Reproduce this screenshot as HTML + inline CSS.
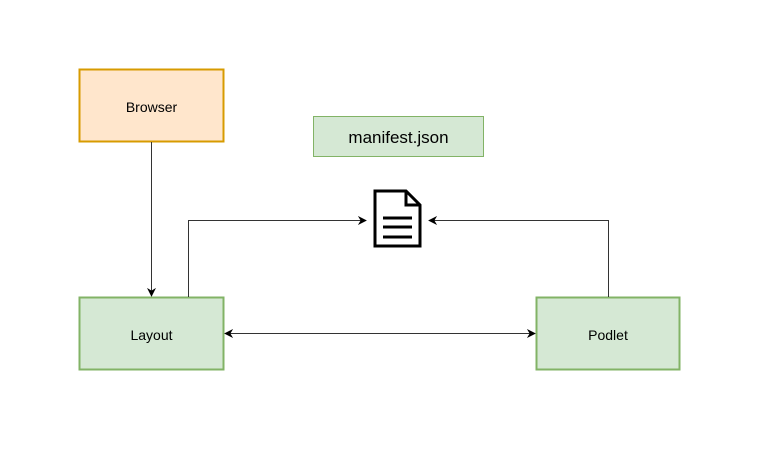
<!DOCTYPE html>
<html><head><style>
body{margin:0;background:#fff;width:765px;height:444px;overflow:hidden;font-family:"Liberation Sans",Helvetica,sans-serif}
</style></head><body>
<svg width="765" height="444" xmlns="http://www.w3.org/2000/svg">
<defs>
<marker id="a" viewBox="0 0 10 10" refX="9" refY="5" markerWidth="9" markerHeight="9" orient="auto-start-reverse" markerUnits="userSpaceOnUse">
<path d="M0,0 L10,5 L0,10 L3,5 Z" fill="#000"/></marker>
</defs>
<rect x="79.5" y="69.5" width="144" height="72" fill="#ffe6cc" stroke="#d79b00" stroke-width="2"/>
<text x="151.5" y="112" font-size="14" text-anchor="middle">Browser</text>
<rect x="79.5" y="297.5" width="144" height="72" fill="#d5e8d4" stroke="#82b366" stroke-width="2"/>
<text x="151.5" y="340" font-size="14" text-anchor="middle">Layout</text>
<rect x="536.5" y="297.5" width="143" height="72" fill="#d5e8d4" stroke="#82b366" stroke-width="2"/>
<text x="608" y="340" font-size="14" text-anchor="middle">Podlet</text>
<rect x="313.5" y="116.5" width="170" height="40" fill="#d5e8d4" stroke="#82b366" stroke-width="1"/>
<text x="398.5" y="143" font-size="17" text-anchor="middle">manifest.json</text>
<g fill="none" stroke="#333" stroke-width="1">
<line x1="151.5" y1="142" x2="151.5" y2="296" marker-end="url(#a)"/>
<polyline points="188.5,297 188.5,220.5 366,220.5" marker-end="url(#a)"/>
<polyline points="608.5,297 608.5,220.5 429,220.5" marker-end="url(#a)"/>
<line x1="225" y1="333.5" x2="535" y2="333.5" marker-start="url(#a)" marker-end="url(#a)"/>
</g>
<g fill="#fff" stroke="#000" stroke-width="3" stroke-linejoin="miter">
<path d="M375,191 L406,191 L420,205 L420,246 L375,246 Z"/>
<path d="M406,191 L406,205 L420,205" fill="none"/>
<path d="M383,218 H412 M383,227 H412 M383,237 H412" fill="none"/>
</g>
</svg>
</body></html>
